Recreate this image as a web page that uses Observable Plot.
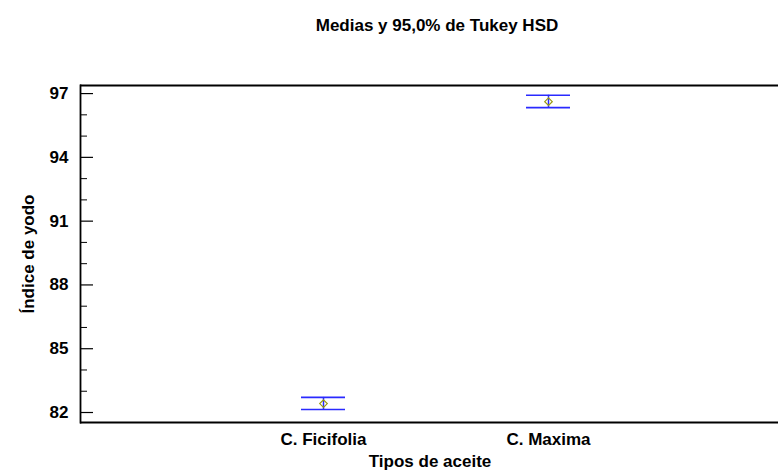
<!DOCTYPE html>
<html>
<head>
<meta charset="utf-8">
<script src="https://cdn.jsdelivr.net/npm/d3@7"></script>
<script src="https://cdn.jsdelivr.net/npm/@observablehq/plot@0.6"></script>
<style>
  html, body { margin: 0; padding: 0; background: #fff; overflow: hidden; }
</style>
</head>
<body>
<div id="chart"></div>
<script>
const title = "Medias y 95,0% de Tukey HSD";
const categories = ["C. Ficifolia", "C. Maxima"];
const means = [82.42, 96.62];
const lower = [82.14, 96.34];
const upper = [82.71, 96.92];
const majorTicks = [82, 85, 88, 91, 94, 97];
const minorTicks = [83, 84, 86, 87, 89, 90, 92, 93, 95, 96];
const yDomain = [81.53, 97.38];

const data = categories.map((c, i) => ({cat: c, mean: means[i], lo: lower[i], hi: upper[i]}));

const font = "'Liberation Sans', Arial, sans-serif";
const chart = Plot.plot({
  width: 779,
  height: 471,
  marginLeft: 80,
  marginRight: 0,
  marginTop: 85,
  marginBottom: 49,
  style: {fontFamily: font, fontSize: "17px", fontWeight: "bold", color: "#000", background: "#fff"},
  x: {type: "band", domain: categories, paddingInner: 0.8044, paddingOuter: 0.9555, align: 0.514},
  y: {domain: yDomain},
  marks: [
    // frame: top and bottom rules, left line
    Plot.ruleY(yDomain, {stroke: "#000", strokeWidth: 1.8, insetRight: 1}),
    Plot.frame({anchor: "left", stroke: "#000", strokeWidth: 1.8}),
    // inward ticks
    Plot.tickY(majorTicks, {y: d => d, insetRight: 699 - 13, stroke: "#000", strokeWidth: 1.2}),
    Plot.tickY(minorTicks, {y: d => d, insetRight: 699 - 7, stroke: "#000", strokeWidth: 1}),
    Plot.axisY({ticks: majorTicks, tickSize: 0, tickPadding: 12, label: "Índice de yodo", labelAnchor: "center", labelArrow: "none", labelOffset: 59}),
    Plot.axisX({tickSize: 0, tickPadding: 10, label: "Tipos de aceite", labelAnchor: "center", labelArrow: "none", labelOffset: 44}),
    // interval bars
    Plot.ruleX(data, {x: "cat", y1: "lo", y2: "hi", stroke: "#2a2aff", strokeWidth: 1.5}),
    Plot.tickY(data, {x: "cat", y: "lo", stroke: "#2a2aff", strokeWidth: 1.6}),
    Plot.tickY(data, {x: "cat", y: "hi", stroke: "#2a2aff", strokeWidth: 1.6}),
    Plot.dot(data, {x: "cat", y: "mean", symbol: "diamond2", r: 3.4, stroke: "#9a9a10", strokeWidth: 1.2, fill: "none"}),
    // title
    Plot.text([title], {text: d => d, frameAnchor: "top", lineAnchor: "middle", dy: -60, dx: 7, fontSize: 17, fontWeight: "bold"})
  ]
});
document.getElementById("chart").appendChild(chart);
</script>
</body>
</html>
